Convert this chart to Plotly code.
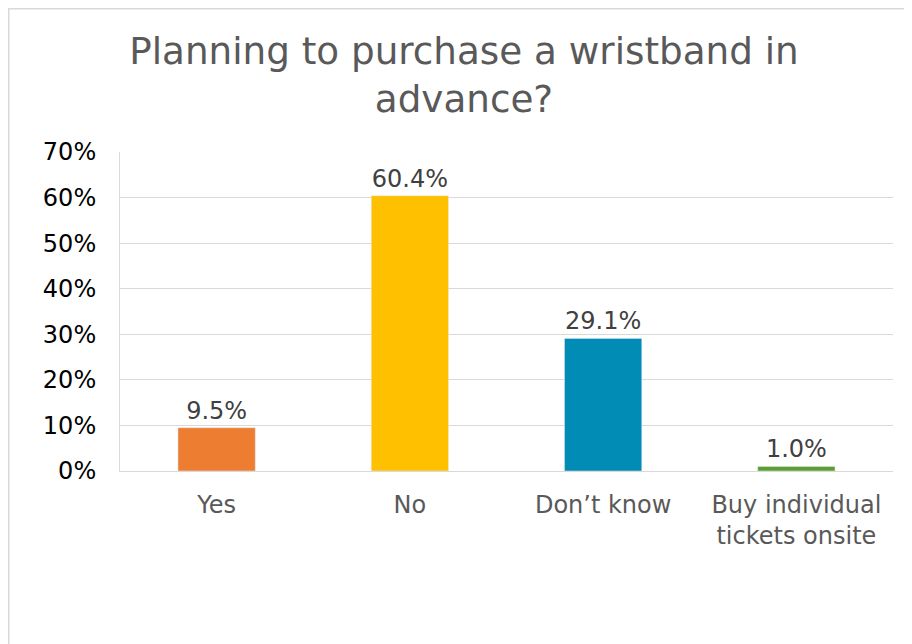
import plotly.graph_objects as go

categories = ["Yes", "No", "Don’t know", "Buy individual<br>tickets onsite"]
values = [0.095, 0.604, 0.291, 0.010]
colors = ["#ED7D31", "#FFC000", "#008CB4", "#5B9D31"]
y_ticks = [0, 0.1, 0.2, 0.3, 0.4, 0.5, 0.6, 0.7]

W, H = 912, 644
L, R, T, B = 112, 27, 144, 181
pw, ph = W - L - R, H - T - B

fig = go.Figure(go.Bar(
    x=categories, y=values, marker_color=colors, width=0.4,
    texttemplate="%{y:.1%}", textposition="outside", cliponaxis=False,
    textfont=dict(family="DejaVu Sans", size=24, color="#404040"),
))

fig.update_layout(
    width=W, height=H, margin=dict(l=L, r=R, t=T, b=B),
    paper_bgcolor="white", plot_bgcolor="white", showlegend=False,
    title=dict(text="Planning to purchase a wristband in<br>advance?",
               x=0.5, xanchor="center", y=1 - 56 / H, yanchor="top",
               font=dict(family="DejaVu Sans", size=37.3, color="#595959")),
    font=dict(family="DejaVu Sans"),
)
fig.update_yaxes(range=[0, 0.7], tickvals=y_ticks, tickformat=".0%",
                 showgrid=True, gridcolor="#D9D9D9", gridwidth=1,
                 showline=True, linecolor="#D9D9D9", zeroline=False,
                 ticks="", ticklabelstandoff=18,
                 tickfont=dict(family="DejaVu Sans", size=24, color="#000000"))
fig.update_xaxes(showline=True, linecolor="#D9D9D9", ticks="",
                 ticklabelstandoff=12,
                 tickfont=dict(family="DejaVu Sans", size=24, color="#595959"))

# chart outer border (only left and top edges fall inside the picture)
def px_to_x(px):
    return (px - L) / pw

def px_to_y(py):
    return (H - B - py) / ph

fig.add_shape(type="rect", xref="paper", yref="paper",
              x0=px_to_x(0.5), x1=px_to_x(W + 20),
              y0=px_to_y(H + 20), y1=px_to_y(0.5),
              line=dict(color="#D9D9D9", width=2), layer="below")

fig.write_html("out.html")
